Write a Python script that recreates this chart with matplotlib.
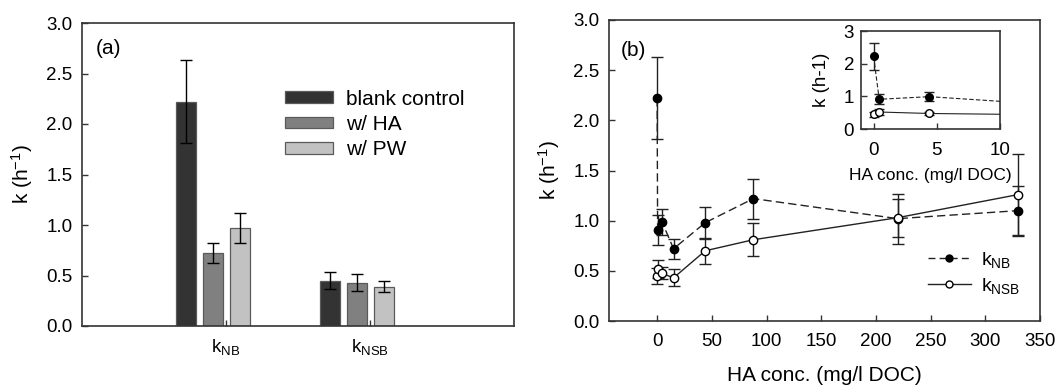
import matplotlib
matplotlib.use("Agg")
import matplotlib.pyplot as plt
import numpy as np
from matplotlib.lines import Line2D
from matplotlib.patches import Patch

plt.rcParams["font.family"] = ["Liberation Sans", "DejaVu Sans"]
plt.rcParams["mathtext.fontset"] = "custom"
plt.rcParams["mathtext.rm"] = "Liberation Sans"
plt.rcParams["mathtext.it"] = "Liberation Sans"
plt.rcParams["axes.linewidth"] = 1.2
plt.rcParams["axes.edgecolor"] = "#333333"

# ---- panel (a): bar chart ----
groups = [r"k$_{\rm NB}$", r"k$_{\rm NSB}$"]
series = ["blank control", "w/ HA", "w/ PW"]
bar_vals = [[2.22, 0.45], [0.72, 0.43], [0.97, 0.39]]
bar_errs = [[0.41, 0.085], [0.10, 0.085], [0.15, 0.055]]
bar_colors = ["#333333", "#808080", "#c2c2c2"]

# ---- panel (b): rate vs HA concentration ----
ha_conc = [0, 0.44, 4.4, 15, 44, 88, 220, 330]
k_nb = [2.22, 0.91, 0.99, 0.72, 0.98, 1.22, 1.02, 1.10]
k_nb_err = [0.41, 0.15, 0.13, 0.10, 0.16, 0.20, 0.25, 0.25]
k_nsb = [0.45, 0.52, 0.475, 0.43, 0.70, 0.81, 1.03, 1.26]
k_nsb_err = [0.08, 0.09, 0.06, 0.085, 0.13, 0.165, 0.19, 0.40]

W, H = 1055, 386
fig = plt.figure(figsize=(W / 100, H / 100), dpi=100)


def px_axes(l, t, r, b):
    return fig.add_axes([l / W, 1 - b / H, (r - l) / W, (b - t) / H])


def style(ax, size=13.5, pad=7):
    ax.tick_params(direction="in", length=4, width=1, labelsize=size, pad=pad,
                   colors="#333333", labelcolor="black")


# panel (a)
ax = px_axes(82, 23, 514, 326)
offsets = [-0.278, -0.09, 0.097]
xg = np.arange(1, len(groups) + 1)
for i, name in enumerate(series):
    ax.bar(xg + offsets[i], bar_vals[i], width=0.139, color=bar_colors[i],
           edgecolor="#5a5a5a", lw=0.9, label=name, zorder=2)
    ax.errorbar(xg + offsets[i], bar_vals[i], yerr=bar_errs[i], fmt="none",
                ecolor="black", elinewidth=1, capsize=4, capthick=1, zorder=3)
ax.set_xlim(0, 3)
ax.set_ylim(0, 3)
ax.set_xticks(xg)
ax.set_xticklabels(groups, fontsize=15)
ax.set_yticks(np.arange(0, 3.01, 0.5))
ax.set_yticklabels([f"{v:.1f}" for v in np.arange(0, 3.01, 0.5)])
style(ax)
ax.tick_params(axis="x", pad=8)
ax.set_ylabel(r"k (h$^{-1}$)", fontsize=15)
ax.yaxis.set_label_coords(-0.108, 0.5)
ax.text(0.032, 0.917, "(a)", transform=ax.transAxes, fontsize=15, va="center")
handles = [Patch(facecolor=c, edgecolor="#5a5a5a", lw=0.9) for c in bar_colors]
ax.legend(handles, series, loc="upper left", bbox_to_anchor=(0.47, 0.78),
          frameon=False, fontsize=15, handlelength=2.3, handleheight=0.5,
          handletextpad=0.65, labelspacing=0.3, borderpad=0, borderaxespad=0)

# panel (b)
bx = px_axes(609, 20, 1040, 321)
bx.errorbar(ha_conc, k_nb, yerr=k_nb_err, fmt="o", ls=(0, (6, 3)), color="#222222",
            mfc="black", mec="black", ms=6, lw=1, ecolor="#222222",
            elinewidth=1, capsize=4.5, capthick=1, zorder=3)
bx.errorbar(ha_conc, k_nsb, yerr=k_nsb_err, fmt="o", ls="-", color="#222222",
            mfc="white", mec="black", ms=6, lw=1, ecolor="#222222",
            elinewidth=1, capsize=4.5, capthick=1, zorder=3)
bx.set_xlim(-44, 350)
bx.set_ylim(0, 3)
bx.set_xticks(np.arange(0, 351, 50))
bx.set_yticks(np.arange(0, 3.01, 0.5))
bx.set_yticklabels([f"{v:.1f}" for v in np.arange(0, 3.01, 0.5)])
style(bx)
bx.tick_params(axis="x", pad=9)
bx.set_ylabel(r"k (h$^{-1}$)", fontsize=15)
bx.yaxis.set_label_coords(-0.109, 0.5)
bx.set_xlabel("HA conc. (mg/l DOC)", fontsize=15)
bx.xaxis.set_label_coords(0.5, -0.15)
bx.text(0.028, 0.9, "(b)", transform=bx.transAxes, fontsize=15, va="center")
leg_h = [Line2D([], [], ls=(0, (5, 3)), color="#222222", marker="o", mfc="black",
                mec="black", ms=5, lw=1),
         Line2D([], [], ls="-", color="#222222", marker="o", mfc="white",
                mec="black", ms=5, lw=1)]
bx.legend(leg_h, [r"k$_{\rm NB}$", r"k$_{\rm NSB}$"], loc="upper left",
          bbox_to_anchor=(0.74, 0.235), frameon=False, fontsize=14,
          handlelength=2.2, handletextpad=0.55, labelspacing=0.3,
          borderpad=0, borderaxespad=0)

# inset
ix = px_axes(861, 31, 1000, 129)
ix.errorbar(ha_conc, k_nb, yerr=k_nb_err, fmt="o", ls=(0, (4, 2)), color="#222222",
            mfc="black", mec="black", ms=5.5, lw=0.8, ecolor="#222222",
            elinewidth=1, capsize=3.5, capthick=1, zorder=3)
ix.errorbar(ha_conc, k_nsb, yerr=k_nsb_err, fmt="o", ls="-", color="#222222",
            mfc="white", mec="black", ms=5.5, lw=0.8, ecolor="#222222",
            elinewidth=1, capsize=3.5, capthick=1, zorder=3)
ix.set_xlim(-1, 10)
ix.set_ylim(0, 3)
ix.set_xticks([0, 5, 10])
ix.set_yticks([0, 1, 2, 3])
style(ix, size=13.5, pad=5)
ix.tick_params(axis="x", pad=9)
ix.set_ylabel("k (h-1)", fontsize=13.5)
ix.yaxis.set_label_coords(-0.223, 0.5)
ix.set_xlabel("HA conc. (mg/l DOC)", fontsize=12.5)
ix.xaxis.set_label_coords(0.5, -0.4)

fig.savefig("out.png", dpi=100)
